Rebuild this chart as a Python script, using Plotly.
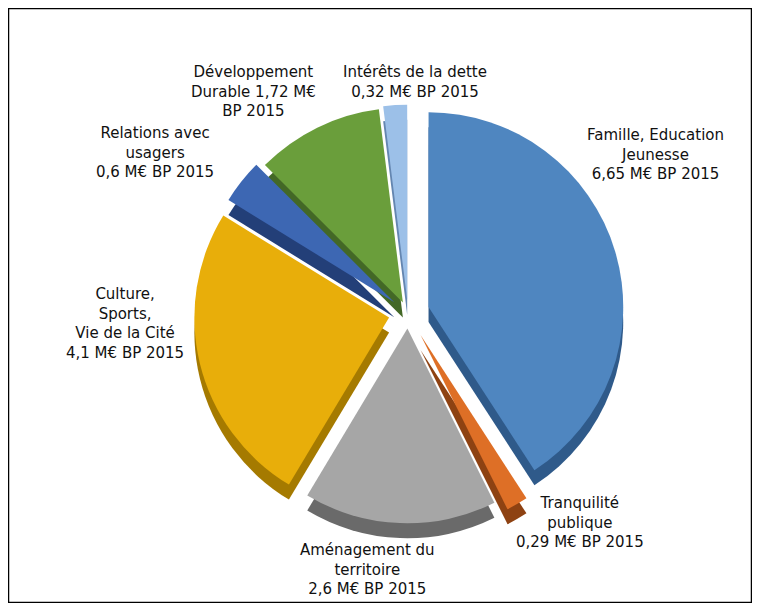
import plotly.graph_objects as go

categories = ["Famille, Education<br>Jeunesse", "Tranquilité<br>publique", "Aménagement du<br>territoire",
              "Culture,<br>Sports,<br>Vie de la Cité", "Relations avec<br>usagers",
              "Développement<br>Durable", "Intérêts de la dette"]
values = [6.65, 0.29, 2.6, 4.1, 0.6, 1.72, 0.32]
value_labels = ["6,65", "0,29", "2,6", "4,1", "0,6", "1,72", "0,32"]
colors = ["#4F86C0", "#DE6F26", "#A6A6A6", "#E8AE0A", "#3D67B3", "#6A9E3B", "#9CC0E8"]
side_colors = ["#2F5A8A", "#8E4212", "#6A6A6A", "#A57A00", "#233F78", "#436826", "#6486B0"]
pulls = [0.11, 0.13, 0.08, 0.10, 0.09, 0.06, 0.07]

# page body has an 8px margin; work in reference coordinates and offset
OFF = 8
W, H = 744, 595
cx, cy, half = 408, 313, 220
depth = 15


def px(x):
    return (x - OFF) / W


def py(y):
    return 1 - (y - OFF) / H


def dom(cxp, cyp):
    return dict(x=[px(cxp - half), px(cxp + half)], y=[py(cyp + half), py(cyp - half)])


fig = go.Figure()
fig.add_trace(go.Pie(values=values, sort=False, direction="clockwise", rotation=0, pull=pulls,
                     marker=dict(colors=side_colors, line=dict(width=0)), textinfo="none",
                     hoverinfo="skip", domain=dom(cx, cy + depth), showlegend=False))
fig.add_trace(go.Pie(values=values, labels=categories, sort=False, direction="clockwise", rotation=0,
                     pull=pulls, marker=dict(colors=colors, line=dict(width=0)), textinfo="none",
                     domain=dom(cx, cy), showlegend=False))

label_pos = [(655, 154), (580, 522), (367, 569), (125, 323), (155, 152), (253, 92), (415, 82)]
font = dict(family="DejaVu Sans", size=15, color="#111111")
for cat, vl, (x, y) in zip(categories, value_labels, label_pos):
    if cat.startswith("Développement"):
        txt = "Développement<br>Durable " + vl + " M€<br>BP 2015"
    else:
        txt = cat + "<br>" + vl + " M€ BP 2015"
    fig.add_annotation(x=px(x), y=py(y), xref="paper", yref="paper", text=txt, showarrow=False,
                       font=font, align="center", xanchor="center", yanchor="middle")

fig.add_shape(type="rect", xref="paper", yref="paper", x0=px(8.5), x1=px(751.5), y0=py(602.5), y1=py(8.5),
              line=dict(color="black", width=1.5))

fig.update_layout(width=W, height=H, margin=dict(l=0, r=0, t=0, b=0), paper_bgcolor="white",
                  plot_bgcolor="white")
fig.write_html("out.html")
